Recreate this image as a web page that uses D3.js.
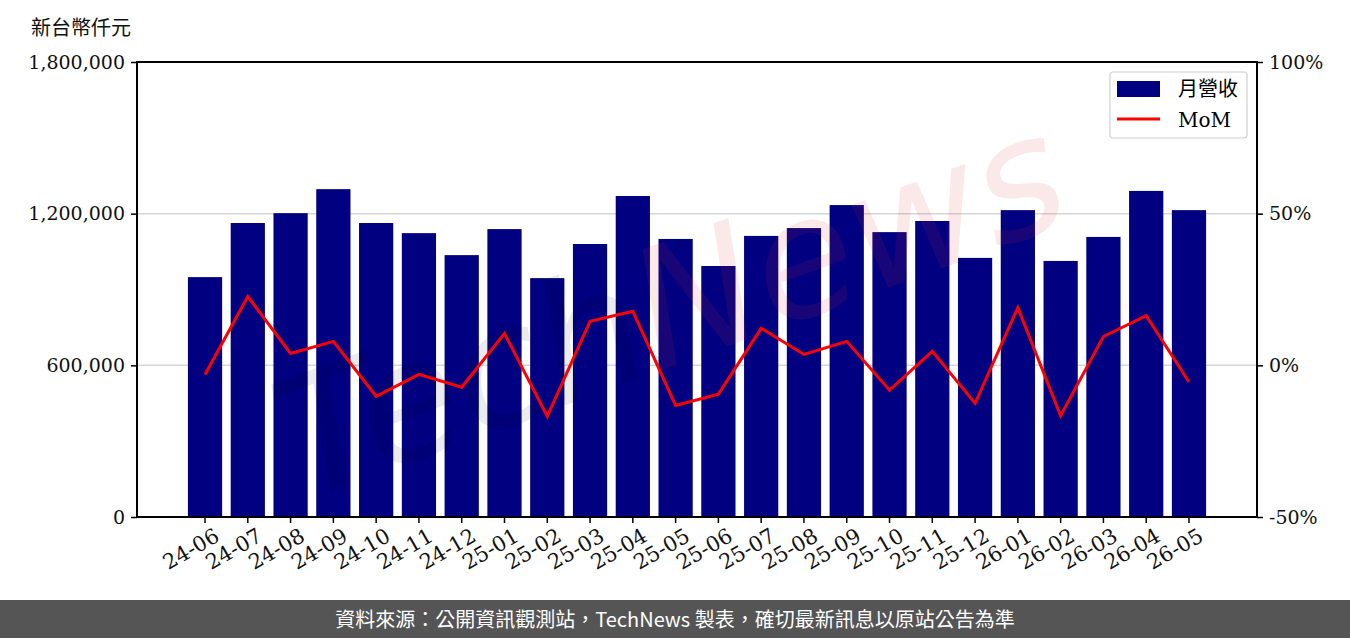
<!DOCTYPE html>
<html>
<head>
<meta charset="utf-8">
<script src="https://cdn.jsdelivr.net/npm/d3@7"></script>
<style>
  body { margin: 0; background: #fff; }
  svg text { font-family: "DejaVu Serif", "Noto Sans CJK TC", serif; }
</style>
</head>
<body>
<svg id="chart" width="1350" height="638"></svg>
<script>
var months = ['24-06', '24-07', '24-08', '24-09', '24-10', '24-11', '24-12',
  '25-01', '25-02', '25-03', '25-04', '25-05', '25-06', '25-07', '25-08', '25-09',
  '25-10', '25-11', '25-12', '26-01', '26-02', '26-03', '26-04', '26-05']
var revenue = [949000, 1163000, 1202000, 1297000, 1163000, 1123000, 1036000,
  1139000, 945000, 1080000, 1270000, 1100000, 993000, 1112000, 1143000, 1234000,
  1127000, 1171000, 1025000, 1214000, 1013000, 1108000, 1290000, 1214000]
var mom = [-3.0, 22.7, 3.9, 7.9, -10.2, -3.0, -7.2,
  10.5, -16.8, 14.5, 17.8, -13.2, -9.5, 12.2, 3.6, 7.9,
  -8.2, 4.6, -12.5, 19.0, -16.6, 9.5, 16.4, -5.5]
var leftTicks = [0, 600000, 1200000, 1800000]
var rightTicks = [-50, 0, 50, 100]

var svg = d3.select('#chart')
var margin = { left: 137, right: 1257, top: 62, bottom: 517 }

var x = d3.scaleBand()
    .domain(months)
    .range([margin.left, margin.right])
    .paddingInner(0.2)
    .paddingOuter(1.19)

var y = d3.scaleLinear()
    .domain([0, 1800000])
    .range([margin.bottom, margin.top])

var y2 = d3.scaleLinear()
    .domain([-50, 100])
    .range([margin.bottom, margin.top])

// grid
svg.append('g')
  .selectAll('line')
  .data(leftTicks.slice(1, 3))
  .enter().append('line')
    .attr('x1', margin.left)
    .attr('x2', margin.right)
    .attr('y1', function (d) { return y(d) })
    .attr('y2', function (d) { return y(d) })
    .attr('stroke', '#d6d6d6')
    .attr('stroke-width', 1.5)

// bars
svg.append('g')
  .selectAll('rect')
  .data(revenue)
  .enter().append('rect')
    .attr('x', function (d, i) { return x(months[i]) })
    .attr('width', x.bandwidth())
    .attr('y', function (d) { return y(d) })
    .attr('height', function (d) { return y(0) - y(d) })
    .attr('fill', '#000080')

// watermark, drawn over the bars with low alpha
var wm = svg.append('text')
    .attr('transform', 'translate(690,360) rotate(-20)')
    .attr('text-anchor', 'middle')
    .style('font-family', '"DejaVu Sans", sans-serif')
    .style('font-style', 'italic')
    .style('font-size', '165px')
wm.append('tspan').attr('fill', '#000').attr('fill-opacity', 0.08).text('Tech')
wm.append('tspan').attr('fill', '#d83030').attr('fill-opacity', 0.11).text('News')

// MoM line
var line = d3.line()
    .x(function (d, i) { return x(months[i]) + x.bandwidth() / 2 })
    .y(function (d) { return y2(d) })

svg.append('path')
    .datum(mom)
    .attr('d', line)
    .attr('fill', 'none')
    .attr('stroke', '#ff0000')
    .attr('stroke-width', 3)

// axes
var fmt = d3.format(',')
svg.append('g')
    .attr('transform', 'translate(' + margin.left + ',0)')
    .call(d3.axisLeft(y).tickValues(leftTicks).tickFormat(fmt).tickSize(6).tickPadding(6))
svg.append('g')
    .attr('transform', 'translate(' + margin.right + ',0)')
    .call(d3.axisRight(y2).tickValues(rightTicks).tickFormat(function (d) { return d + '%' }).tickSize(6).tickPadding(6))
var bottomAxis = svg.append('g')
    .attr('transform', 'translate(0,' + margin.bottom + ')')
    .call(d3.axisBottom(x).tickSize(6).tickPadding(4))

svg.selectAll('.domain').remove()
svg.selectAll('.tick line').attr('stroke', '#000').attr('stroke-width', 1.5)
svg.selectAll('.tick text').style('font-size', '19px').attr('fill', '#111')

bottomAxis.selectAll('text')
    .style('font-size', '21px')
    .attr('text-anchor', 'end')
    .attr('dx', '0.1em')
    .attr('dy', '0.85em')
    .attr('transform', 'rotate(-30)')

// frame
svg.append('rect')
    .attr('x', margin.left)
    .attr('y', margin.top)
    .attr('width', margin.right - margin.left)
    .attr('height', margin.bottom - margin.top)
    .attr('fill', 'none')
    .attr('stroke', '#000')
    .attr('stroke-width', 2)

// unit title
svg.append('text')
    .attr('x', 31)
    .attr('y', 35)
    .style('font-size', '20px')
    .attr('fill', '#111')
    .text('新台幣仟元')

// legend
var lg = svg.append('g').attr('transform', 'translate(1110,72)')
lg.append('rect')
    .attr('width', 137).attr('height', 66)
    .attr('rx', 3)
    .attr('fill', '#fff').attr('fill-opacity', 0.85)
    .attr('stroke', '#d0d0d0').attr('stroke-width', 1.2)
lg.append('rect')
    .attr('x', 7).attr('y', 9).attr('width', 43).attr('height', 16)
    .attr('fill', '#000080')
lg.append('line')
    .attr('x1', 7).attr('x2', 50).attr('y1', 47).attr('y2', 47)
    .attr('stroke', '#ff0000').attr('stroke-width', 3)
lg.append('text')
    .attr('x', 68).attr('y', 24)
    .style('font-size', '20px')
    .text('月營收')
lg.append('text')
    .attr('x', 68).attr('y', 55)
    .style('font-size', '20px')
    .text('MoM')

// footer
svg.append('rect')
    .attr('x', 0).attr('y', 600)
    .attr('width', 1350).attr('height', 38)
    .attr('fill', '#555555')
svg.append('text')
    .attr('x', 675).attr('y', 627)
    .attr('text-anchor', 'middle')
    .style('font-family', '"Noto Sans CJK TC", "Noto Sans", sans-serif')
    .style('font-size', '20px')
    .attr('fill', '#fff')
    .text('資料來源：公開資訊觀測站，TechNews 製表，確切最新訊息以原站公告為準')
</script>
</body>
</html>
